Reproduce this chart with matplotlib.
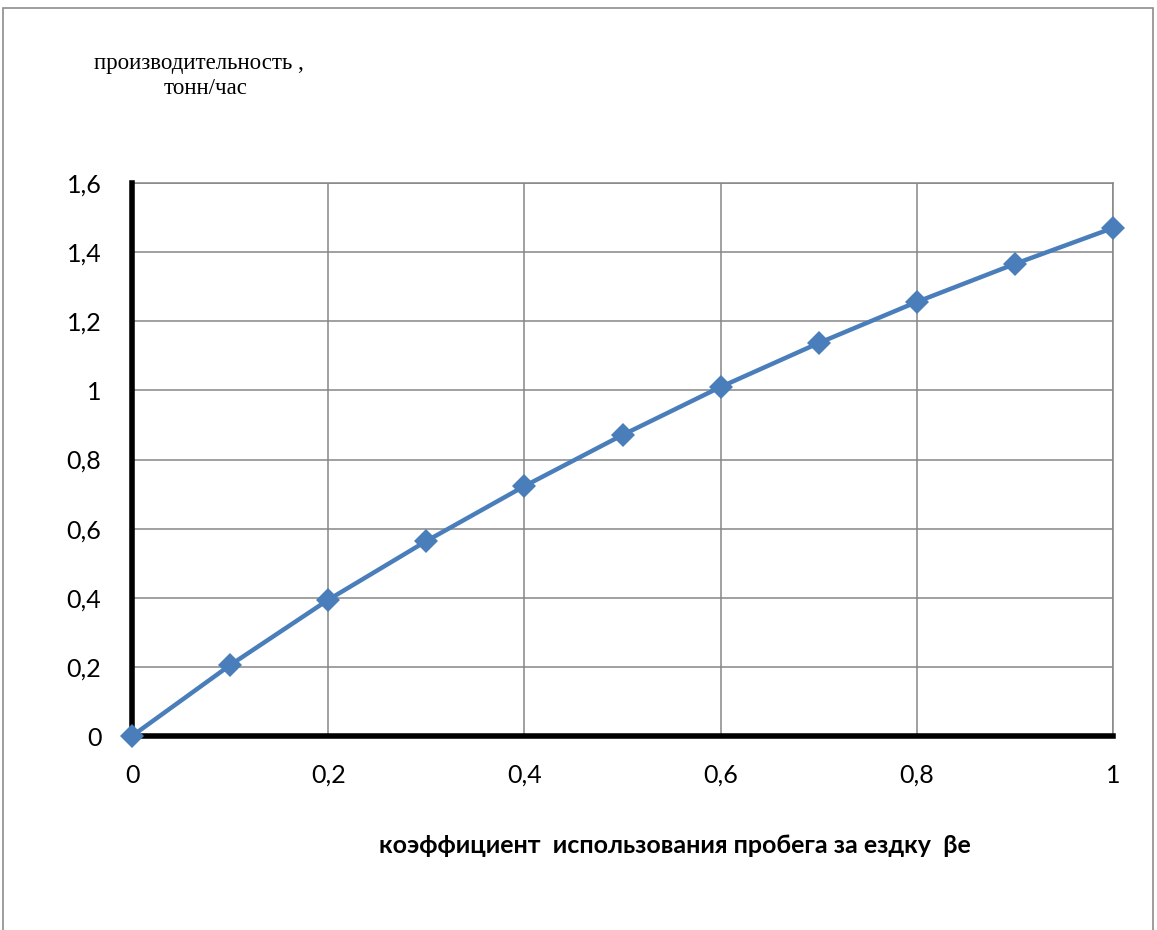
import numpy as np
import matplotlib.pyplot as plt
from matplotlib.patches import Rectangle

# data
beta = [0.0, 0.1, 0.2, 0.3, 0.4, 0.5, 0.6, 0.7, 0.8, 0.9, 1.0]
prod = [0.0, 0.205, 0.394, 0.564, 0.723, 0.871, 1.010, 1.137, 1.256, 1.366, 1.470]

xticks = [0, 0.2, 0.4, 0.6, 0.8, 1.0]
xlabels = ['0', '0,2', '0,4', '0,6', '0,8', '1']
yticks = [0, 0.2, 0.4, 0.6, 0.8, 1.0, 1.2, 1.4, 1.6]
ylabels = ['0', '0,2', '0,4', '0,6', '0,8', '1', '1,2', '1,4', '1,6']

sans = ['Lato', 'DejaVu Sans']
serif = ['Liberation Serif', 'DejaVu Serif']

fig = plt.figure(figsize=(11.57, 9.30), dpi=100)
ax = fig.add_axes([0.1141, 0.2086, 0.8479, 0.5946])

# outer chart frame
fig.patches.append(Rectangle((3 / 1157, -0.05), 1150 / 1157, 1 - 8 / 930 + 0.05,
                             transform=fig.transFigure, fill=False,
                             edgecolor='#8c8c8c', linewidth=1.2))

ax.plot(beta, prod, color='#4a7ebb', linewidth=3.2, marker='D',
        markersize=12, markeredgewidth=0, zorder=5, clip_on=False)

ax.set_xlim(0, 1)
ax.set_ylim(0, 1.6)
ax.set_xticks(xticks)
ax.set_xticklabels(xlabels)
ax.set_yticks(yticks)
ax.set_yticklabels(ylabels)
ax.grid(True, color='#868686', linewidth=1.1)
ax.tick_params(length=0, labelsize=18, colors='black')
ax.tick_params(axis='x', pad=20)
ax.tick_params(axis='y', pad=22)
for lbl in ax.get_xticklabels() + ax.get_yticklabels():
    lbl.set_family(sans)

for s in ['top', 'right']:
    ax.spines[s].set_color('#868686')
    ax.spines[s].set_linewidth(1.1)
for s in ['left', 'bottom']:
    ax.spines[s].set_color('black')
    ax.spines[s].set_linewidth(4)
    ax.spines[s].set_zorder(4)

fig.text(199 / 1157, 1 - 63 / 930, 'производительность ,', family=serif,
         fontsize=16.5, ha='center', va='center')
fig.text(206 / 1157, 1 - 89 / 930, 'тонн/час', family=serif,
         fontsize=16.5, ha='center', va='center')
fig.text(675 / 1157, 1 - 845 / 930, 'коэффициент  использования пробега за ездку  βе',
         family=sans, fontsize=18, fontweight='bold', ha='center', va='center')

fig.savefig('out.png', dpi=100, facecolor='white')
